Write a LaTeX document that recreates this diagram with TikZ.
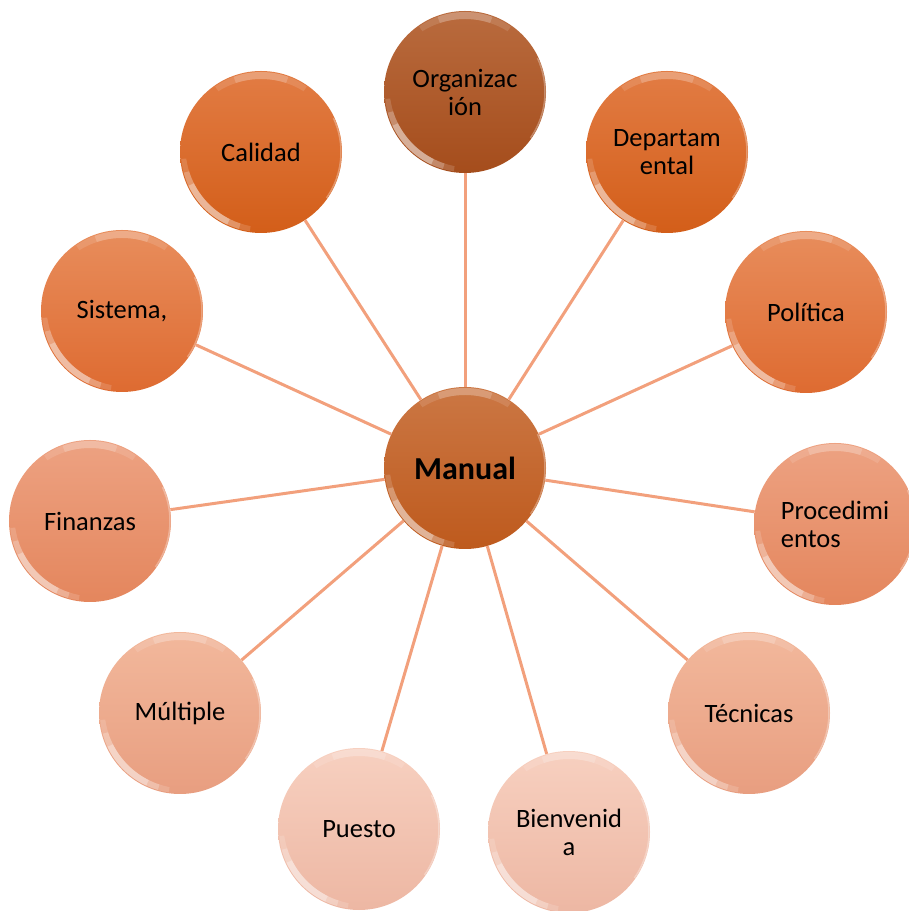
\documentclass[tikz,border=0pt]{standalone}
\usepackage{fontspec}
\setmainfont{Carlito}

% ball colours: top / bottom of each gradient
\definecolor{orgT}{HTML}{B96B3E}\definecolor{orgB}{HTML}{A54D1C}
\definecolor{manT}{HTML}{CB7744}\definecolor{manB}{HTML}{BE5A1D}
\definecolor{depT}{HTML}{E27C44}\definecolor{depB}{HTML}{D35E19}
\definecolor{polT}{HTML}{E88D5C}\definecolor{polB}{HTML}{DE6B31}
\definecolor{proT}{HTML}{EDA282}\definecolor{proB}{HTML}{E4865D}
\definecolor{tecT}{HTML}{F2B89C}\definecolor{tecB}{HTML}{E89E80}
\definecolor{bieT}{HTML}{F7D0C0}\definecolor{bieB}{HTML}{EDB7A3}
\definecolor{linkc}{HTML}{F2A07C}

% glossy bevel drawn inside every ball
\newcommand\ballgloss{%
  \coordinate (gc) at (path picture bounding box.center);
  % bright crescent on the lower left
  \foreach \a/\b/\o in {205/245/0.3, 195/254/0.22, 185/262/0.15}{%
    \begin{scope}
      \clip (gc) -- ++(\a:95) arc[start angle=\a, end angle=\b, radius=95] -- cycle;
      \fill[white, opacity=\o, even odd rule]
        (gc) circle[radius=80] ([shift={(4.5,4.5)}]gc) circle[radius=80];
    \end{scope}}
  % soft band along the top
  \foreach \a/\b/\o in {70/110/0.18, 55/125/0.12}{%
    \begin{scope}
      \clip (gc) -- ++(\a:95) arc[start angle=\a, end angle=\b, radius=95] -- cycle;
      \fill[white, opacity=\o, even odd rule]
        (gc) circle[radius=80] ([shift={(0,-7)}]gc) circle[radius=80];
    \end{scope}}
  % faint rim on the right
  \draw[white, opacity=0.3, line width=1.5bp]
    ([shift={(-35:80)}]gc) arc[start angle=-35, end angle=25, radius=80];
}

\tikzset{
  ball/.style 2 args={circle, minimum size=162bp, inner sep=0pt,
    top color=#1, bottom color=#2, align=center, text=black,
    font=\fontsize{26.5bp}{28bp}\selectfont, path picture={\ballgloss}},
  hub/.style={font=\fontsize{32bp}{34bp}\selectfont\bfseries},
  link/.style={draw=linkc, line width=3bp},
}

\begin{document}
\begin{tikzpicture}[x=1bp, y=1bp]
  \useasboundingbox (0,0) rectangle (909,911);

  \node[ball={manT}{manB}, hub] (man) at (465,443) {Manual};

  \node[ball={orgT}{orgB}] (org) at (465,819) {Organizac\\ión};
  \node[ball={depT}{depB}] (dep) at (667,759) {Departam\\ental};
  \node[ball={depT}{depB}] (cal) at (261,759) {Calidad};
  \node[ball={polT}{polB}] (pol) at (806,599) {Política};
  \node[ball={polT}{polB}] (sis) at (122,600) {Sistema,};
  \node[ball={proT}{proB}, align=left] (pro) at (835,387) {Procedimi\\entos};
  \node[ball={proT}{proB}] (fin) at (90,390) {Finanzas};
  \node[ball={tecT}{tecB}] (tec) at (749,198) {Técnicas};
  \node[ball={tecT}{tecB}] (mul) at (180,198) {Múltiple};
  \node[ball={bieT}{bieB}] (bie) at (569,79) {Bienvenid\\a};
  \node[ball={bieT}{bieB}] (pue) at (359,82) {Puesto};

  \foreach \n in {org,dep,cal,pol,sis,pro,fin,tec,mul,bie,pue}
    \draw[link] (man) -- (\n);
\end{tikzpicture}
\end{document}
